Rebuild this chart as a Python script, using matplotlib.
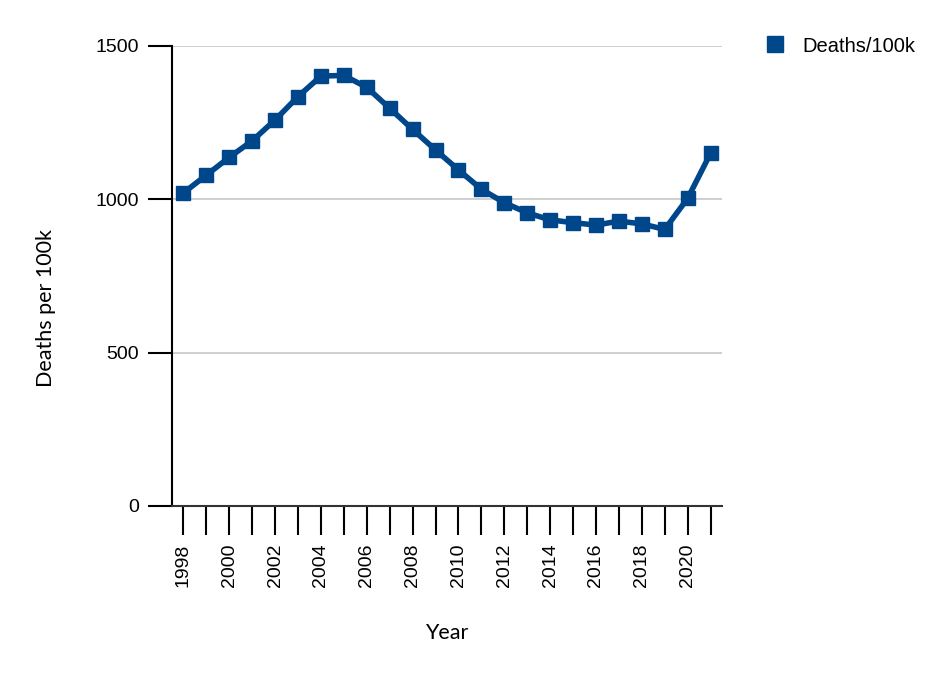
import matplotlib
matplotlib.use("Agg")
import matplotlib.pyplot as plt
from matplotlib.lines import Line2D

years = list(range(1998, 2022))
deaths = [1021, 1079, 1137, 1191, 1259, 1335, 1402, 1404, 1365, 1297, 1228, 1161, 1096,
          1033, 989, 956, 933, 924, 916, 929, 920, 902, 1003, 1150]
y_ticks = [0, 500, 1000, 1500]
series_name = "Deaths/100k"

color = "#00468b"

fig = plt.figure(figsize=(9.48, 6.78), dpi=100)
ax = fig.add_axes([172/948, 1-506/678, 550/948, 460/678])

ax.plot(years, deaths, color=color, lw=4, marker="s", markersize=10.5,
        markeredgecolor=color, markerfacecolor=color, solid_joinstyle="round", zorder=3)

ax.set_xlim(1997.5, 2021.5)
ax.set_ylim(0, 1500)
ax.set_yticks(y_ticks)
ax.set_yticklabels([str(v) for v in y_ticks], fontfamily="Liberation Sans", fontsize=14)
ax.set_xticks(years)
ax.set_xticklabels([str(y) if y % 2 == 0 else "" for y in years], rotation=90,
                   fontfamily="Liberation Sans", fontsize=14)
ax.tick_params(axis="y", length=17, width=1.5, pad=7, color="black")
ax.tick_params(axis="x", length=21, width=1.5, pad=6, color="black")

ax.grid(axis="y", color="#cccccc", lw=1.3, zorder=0)
ax.set_axisbelow(True)
for s in ["top", "right"]:
    ax.spines[s].set_visible(False)
ax.spines["left"].set_linewidth(1.5)
ax.spines["bottom"].set_linewidth(1.5)
ax.spines["bottom"].set_color("#333333")

ax.set_ylabel("Deaths per 100k", fontfamily="Lato", fontsize=15.5)
ax.yaxis.set_label_coords(-0.21, 0.43)
ax.set_xlabel("Year", fontfamily="Lato", fontsize=15.5)
ax.xaxis.set_label_coords(0.5, -0.255)

handle = Line2D([], [], color=color, marker="s", linestyle="none", markersize=12)
fig.legend([handle], [series_name], loc="center left",
           bbox_to_anchor=(737/948, 1-46/678), frameon=False,
           prop={"family": "Liberation Sans", "size": 14.5}, handletextpad=0.35)

fig.savefig("out.png", dpi=100)
